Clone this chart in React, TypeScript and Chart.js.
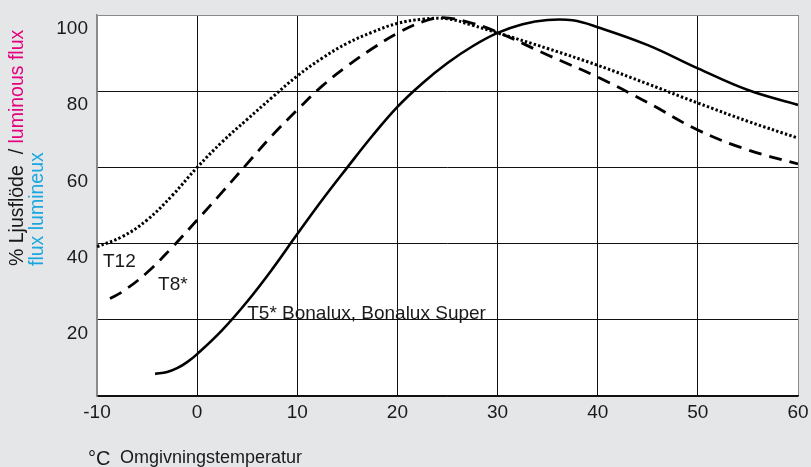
import React, { useEffect, useRef } from 'react';
import { Chart, registerables } from 'chart.js';

Chart.register(...registerables);

// Temperature (°C) and relative luminous flux (%) per lamp type
const t12Temps = [-10, -7.5, -5, -2.5, 0, 2.5, 5, 7.5, 10, 12.5, 15, 17.5, 20, 22.5, 25, 27.5, 30, 35, 40, 45, 50, 55, 60];
const t12Values = [39.2, 41.8, 46.2, 52.6, 60, 66.7, 72.6, 78.4, 84, 88.7, 92.6, 95.5, 97.8, 98.9, 99, 97.3, 95.3, 91.2, 86.8, 81.9, 76.9, 72.1, 67.7];

const t8Temps = [-8.7, -7.5, -5, -2.5, 0, 2.5, 5, 7.5, 10, 12.5, 15, 17.5, 20, 22.5, 24.5, 27.5, 30, 35, 40, 45, 50, 55, 60];
const t8Values = [25.6, 27.3, 32.4, 39, 46.2, 53.5, 61, 68.4, 75.1, 81.4, 86.6, 91.2, 95.2, 98.2, 99.3, 97.8, 95.5, 89.5, 83.7, 77, 69.8, 64.6, 60.9];

const t5Temps = [-4.2, -3, -2, -1, 0, 2.5, 5, 7.5, 10, 12.5, 15, 17.5, 20, 22.5, 25, 27.5, 30, 32.5, 35, 37.5, 40, 45, 50, 55, 60];
const t5Values = [5.8, 6.3, 7.3, 8.9, 11, 17.3, 24.8, 33.3, 42.5, 51.5, 60, 68.3, 75.9, 82.1, 87.4, 91.8, 95.3, 97.6, 98.7, 98.6, 96.8, 92.1, 86, 80.3, 76.4];

const xMin = -10;
const xMax = 60;
const xStep = 10;
const yMin = 0;
const yMax = 100;
const yStep = 20;

// Curve labels: [text, temperature, flux]
const curveLabels: [string, number, number][] = [
  ['T12', -9.4, 35.2],
  ['T8*', -3.9, 29.1],
  ['T5* Bonalux, Bonalux Super', 5.0, 21.5],
];

const yTitleMain = '% Ljusflöde  / ';
const yTitleEn = 'luminous flux';
const yTitleFr = 'flux lumineux';
const xTitleUnit = '°C';
const xTitleText = 'Omgivningstemperatur';

const FONT = "'Liberation Sans', Arial, Helvetica, sans-serif";
const TEXT = '#1a1a1a';
const BG = '#e5e6e8';
const EDGE = '#8a8a8a';
const GRID = '#111111';

const toPoints = (xs: number[], ys: number[]) => xs.map((x, i) => ({ x, y: ys[i] }));

const bgPlugin = {
  id: 'bgPlugin',
  beforeDraw(chart: any) {
    const { ctx, chartArea: a, width, height } = chart;
    ctx.save();
    ctx.fillStyle = BG;
    ctx.fillRect(0, 0, width, height);
    ctx.fillStyle = '#ffffff';
    ctx.fillRect(a.left, a.top, a.right - a.left, a.bottom - a.top);
    ctx.restore();
  },
};

const textPlugin = {
  id: 'textPlugin',
  afterDatasetsDraw(chart: any) {
    const { ctx } = chart;
    const xs = chart.scales.x;
    const ys = chart.scales.y;
    ctx.save();
    ctx.fillStyle = TEXT;
    ctx.font = `19px ${FONT}`;
    ctx.textAlign = 'left';
    ctx.textBaseline = 'middle';
    curveLabels.forEach(([t, x, y]) => {
      ctx.fillText(t, xs.getPixelForValue(x), ys.getPixelForValue(y));
    });
    ctx.restore();
  },
  afterDraw(chart: any) {
    const { ctx } = chart;
    ctx.save();
    // Y title (rotated)
    ctx.font = `19.5px ${FONT}`;
    ctx.textBaseline = 'middle';
    ctx.textAlign = 'left';
    ctx.save();
    ctx.translate(18, 266);
    ctx.rotate(-Math.PI / 2);
    ctx.fillStyle = TEXT;
    ctx.fillText(yTitleMain, 0, 0);
    const w = ctx.measureText(yTitleMain).width;
    ctx.fillStyle = '#e5007d';
    ctx.fillText(yTitleEn, w, 0);
    ctx.restore();
    ctx.save();
    ctx.translate(38, 266);
    ctx.rotate(-Math.PI / 2);
    ctx.fillStyle = '#1aa7e0';
    ctx.fillText(yTitleFr, 0, 0);
    ctx.restore();
    // X title
    ctx.fillStyle = TEXT;
    ctx.textBaseline = 'alphabetic';
    ctx.font = `20px ${FONT}`;
    ctx.fillText(xTitleUnit, 88, 465);
    ctx.font = `18px ${FONT}`;
    ctx.fillText(xTitleText, 120, 463);
    ctx.restore();
  },
};

export default function App() {
  const ref = useRef<HTMLCanvasElement | null>(null);
  useEffect(() => {
    document.body.style.margin = '0';
    const canvas = ref.current;
    if (!canvas) return;
    const common = {
      borderColor: '#000000',
      pointRadius: 0,
      fill: false,
      tension: 0.4,
    };
    const chart = new Chart(canvas, {
      type: 'line',
      data: {
        datasets: [
          { ...common, label: 'T12', data: toPoints(t12Temps, t12Values), borderWidth: 3, borderDash: [2.4, 2.2] },
          { ...common, label: 'T8*', data: toPoints(t8Temps, t8Values), borderWidth: 2.8, borderDash: [13, 8] },
          { ...common, label: 'T5*', data: toPoints(t5Temps, t5Values), borderWidth: 2.6 },
        ],
      },
      plugins: [bgPlugin, textPlugin],
      options: {
        responsive: false,
        animation: false,
        devicePixelRatio: 1,
        layout: { padding: { left: 0, top: 15, right: 13, bottom: 0 } },
        plugins: { legend: { display: false }, tooltip: { enabled: false } },
        scales: {
          x: {
            type: 'linear',
            min: xMin,
            max: xMax,
            afterFit: (s: any) => { s.height = 71; s.paddingLeft = 0; s.paddingRight = 0; },
            ticks: { stepSize: xStep, color: TEXT, font: { family: FONT, size: 19 }, padding: 5, maxRotation: 0 },
            grid: {
              drawTicks: false,
              lineWidth: 1,
              color: (c: any) => (c.tick && (c.tick.value === xMin || c.tick.value === xMax) ? EDGE : GRID),
            },
            border: { color: GRID, width: 1.5 },
          },
          y: {
            type: 'linear',
            min: yMin,
            max: yMax,
            afterFit: (s: any) => { s.width = 97; s.paddingTop = 0; s.paddingBottom = 0; },
            ticks: {
              stepSize: yStep,
              color: TEXT,
              font: { family: FONT, size: 19 },
              padding: 9,
              labelOffset: 14,
              callback: (v: any) => (v === 0 ? '' : String(v)),
            },
            grid: {
              drawTicks: false,
              lineWidth: 1,
              color: (c: any) => (c.tick && c.tick.value === yMax ? EDGE : GRID),
            },
            border: { color: EDGE, width: 1.5 },
          },
        },
      },
    });
    return () => chart.destroy();
  }, []);
  return (
    <div style={{ width: 811, height: 467 }}>
      <canvas ref={ref} width={811} height={467} style={{ display: 'block' }} />
    </div>
  );
}
